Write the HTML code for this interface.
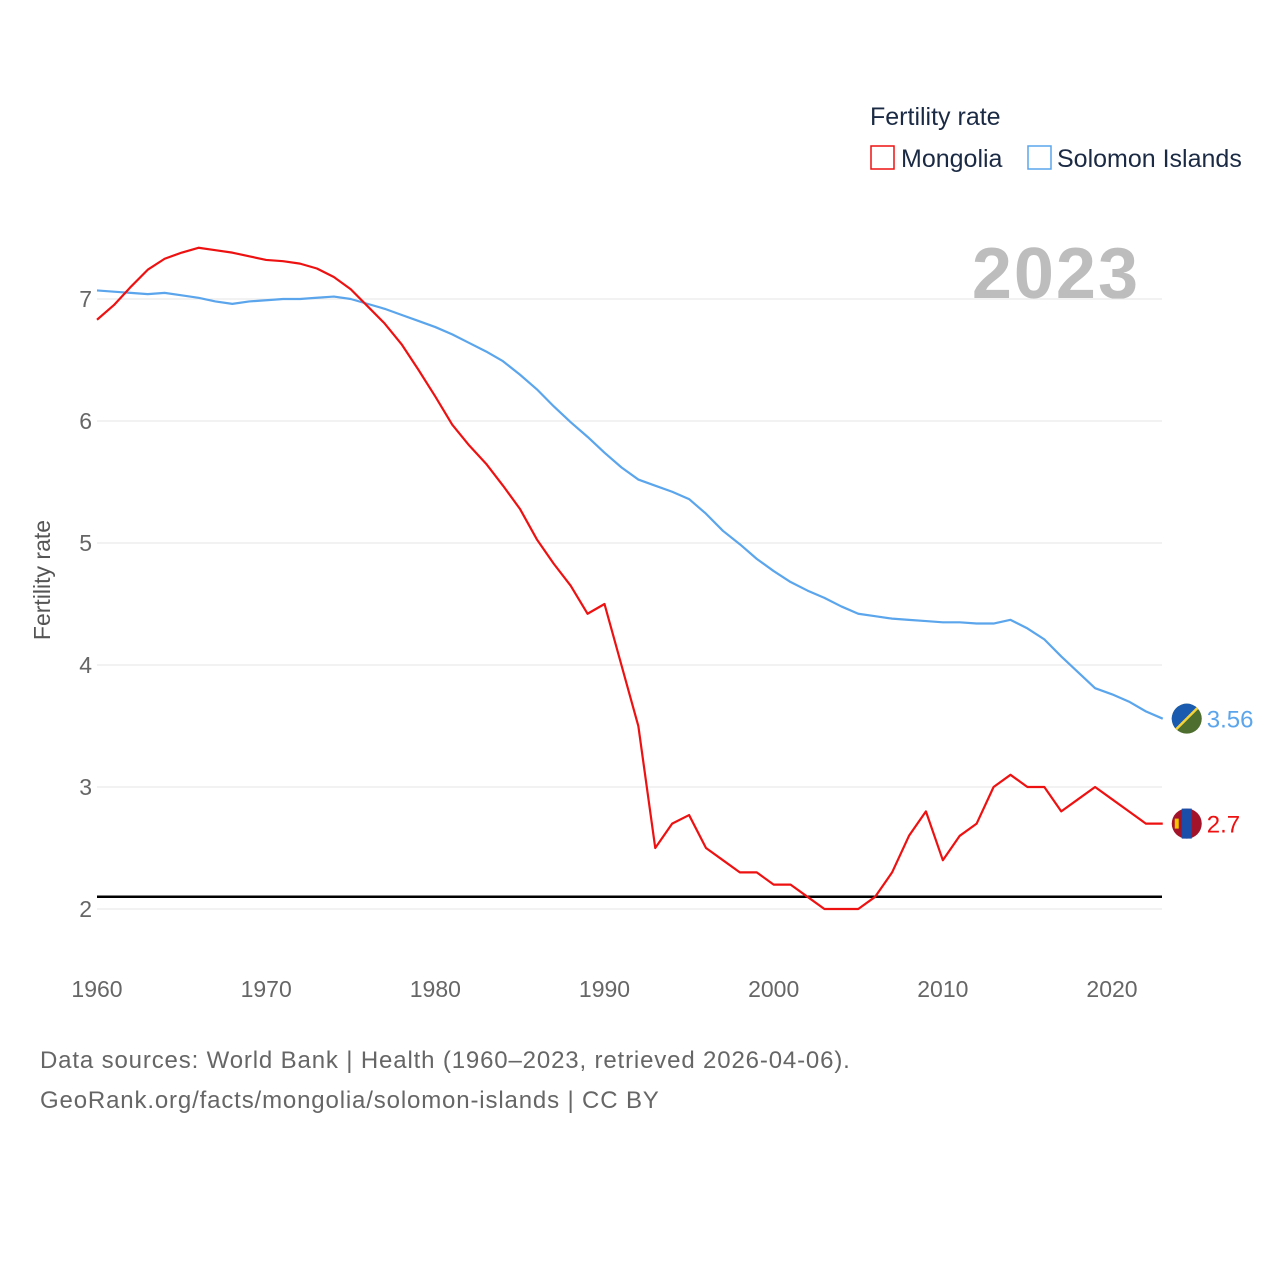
<!DOCTYPE html>
<html><head><meta charset="utf-8"><style>
body{margin:0;background:#fff;font-family:"Liberation Sans",sans-serif}
svg text{font-family:"Liberation Sans",sans-serif}
</style></head><body>
<svg id="chart" width="1280" height="1280" viewBox="0 0 1280 1280" xmlns="http://www.w3.org/2000/svg">
<text x="870" y="125" font-size="25" fill="#1b2a44">Fertility rate</text>
<g><rect x="871" y="146" width="23" height="23" fill="none" stroke="#ee1111" stroke-width="1.5"/><text x="901" y="167" font-size="25" fill="#1b2a44">Mongolia</text></g>
<g><rect x="1028" y="146" width="23" height="23" fill="none" stroke="#5aa5ec" stroke-width="1.5"/><text x="1057" y="167" font-size="25" fill="#1b2a44">Solomon Islands</text></g>
<text x="1140" y="298" font-size="72" font-weight="bold" fill="#bdbdbd" text-anchor="end" letter-spacing="2">2023</text>
<text transform="translate(50,580) rotate(-90)" font-size="23" fill="#555" text-anchor="middle">Fertility rate</text>
<g id="grid"></g><g id="series"></g>
<text x="40" y="1068" font-size="24" fill="#666" letter-spacing="0.85">Data sources: World Bank | Health (1960–2023, retrieved 2026-04-06).</text>
<text x="40" y="1108" font-size="24" fill="#666" letter-spacing="0.85">GeoRank.org/facts/mongolia/solomon-islands | CC BY</text>
</svg>
<script>
const years=[];for(let y=1960;y<=2023;y++)years.push(y);
const mongolia=[6.83,6.95,7.1,7.24,7.33,7.38,7.42,7.4,7.38,7.35,7.32,7.31,7.29,7.25,7.18,7.08,6.94,6.8,6.63,6.42,6.2,5.97,5.8,5.65,5.47,5.28,5.03,4.83,4.65,4.42,4.5,4.0,3.5,2.5,2.7,2.77,2.5,2.4,2.3,2.3,2.2,2.2,2.1,2.0,2.0,2.0,2.1,2.3,2.6,2.8,2.4,2.6,2.7,3.0,3.1,3.0,3.0,2.8,2.9,3.0,2.9,2.8,2.7,2.7];
const solomon=[7.07,7.06,7.05,7.04,7.05,7.03,7.01,6.98,6.96,6.98,6.99,7.0,7.0,7.01,7.02,7.0,6.96,6.92,6.87,6.82,6.77,6.71,6.64,6.57,6.49,6.38,6.26,6.12,5.99,5.87,5.74,5.62,5.52,5.47,5.42,5.36,5.24,5.1,4.99,4.87,4.77,4.68,4.61,4.55,4.48,4.42,4.4,4.38,4.37,4.36,4.35,4.35,4.34,4.34,4.37,4.3,4.21,4.07,3.94,3.81,3.76,3.7,3.62,3.56];
const yTicks=[2,3,4,5,6,7];
const xTicks=[1960,1970,1980,1990,2000,2010,2020];
const replacement=2.1;
const X=y=>97+(y-1960)*(1015/60);
const Y=v=>909-(v-2)*122;
const NS="http://www.w3.org/2000/svg";
const g=document.getElementById('grid'),s=document.getElementById('series');
function mk(p,tag,at){const e=document.createElementNS(NS,tag);for(const k in at)e.setAttribute(k,at[k]);p.appendChild(e);return e;}
yTicks.forEach(t=>{
 const l=mk(g,'line',{x1:97,x2:1162,y1:Y(t),y2:Y(t),stroke:'#e6e6e6','stroke-width':1});
 
 
 const tx=mk(g,'text',{x:92,y:Y(t)+8,'font-size':23,fill:'#666','text-anchor':'end'});tx.textContent=t;
 
 
});
xTicks.forEach(t=>{
 const tx=mk(g,'text',{x:X(t),y:997,'font-size':23,fill:'#666','text-anchor':'middle'});tx.textContent=t;
 
 
});
const rl=mk(g,'line',{x1:97,x2:1162,y1:Y(replacement),y2:Y(replacement),stroke:'#000','stroke-width':2.5});


function line(data,col,name){
 const p=mk(s,'polyline',{points:data.map((v,i)=>X(years[i])+','+Y(v)).join(' '),fill:'none',stroke:col,'stroke-width':2.2,'stroke-linejoin':'round'});
 
 
}
line(solomon,'#5aa5ec','solomon-islands');
line(mongolia,'#ee1111','mongolia');
const lx=X(2023)+24;
const sy=Y(solomon[63]);
const sf=mk(s,'g',{});


const cp=mk(sf,'clipPath',{id:'c1'});
mk(cp,'circle',{cx:lx,cy:sy,r:15});
mk(sf,'circle',{cx:lx,cy:sy,r:15,fill:'#4d6e2e'});
mk(sf,'polygon',{points:`${lx-16},${sy-16} ${lx+16},${sy-16} ${lx-16},${sy+16}`,fill:'#1a5bb0','clip-path':'url(#c1)'});
mk(sf,'line',{x1:lx+16,y1:sy-16,x2:lx-16,y2:sy+16,stroke:'#f5d33a','stroke-width':2.5,'clip-path':'url(#c1)'});
const sv=mk(s,'text',{x:lx+20,y:sy+9,'font-size':24,fill:'#5aa5ec'});sv.textContent='3.56';


const my=Y(mongolia[63]);
const mf=mk(s,'g',{});


mk(mf,'circle',{cx:lx,cy:my,r:15,fill:'#a3132a'});
mk(mf,'rect',{x:lx-5,y:my-15,width:10,height:30,fill:'#1a4ea8'});
mk(mf,'rect',{x:lx-12,y:my-5,width:4,height:10,fill:'#f5c400'});
const mv=mk(s,'text',{x:lx+20,y:my+9,'font-size':24,fill:'#ee1111'});mv.textContent='2.7';


</script>
</body></html>
